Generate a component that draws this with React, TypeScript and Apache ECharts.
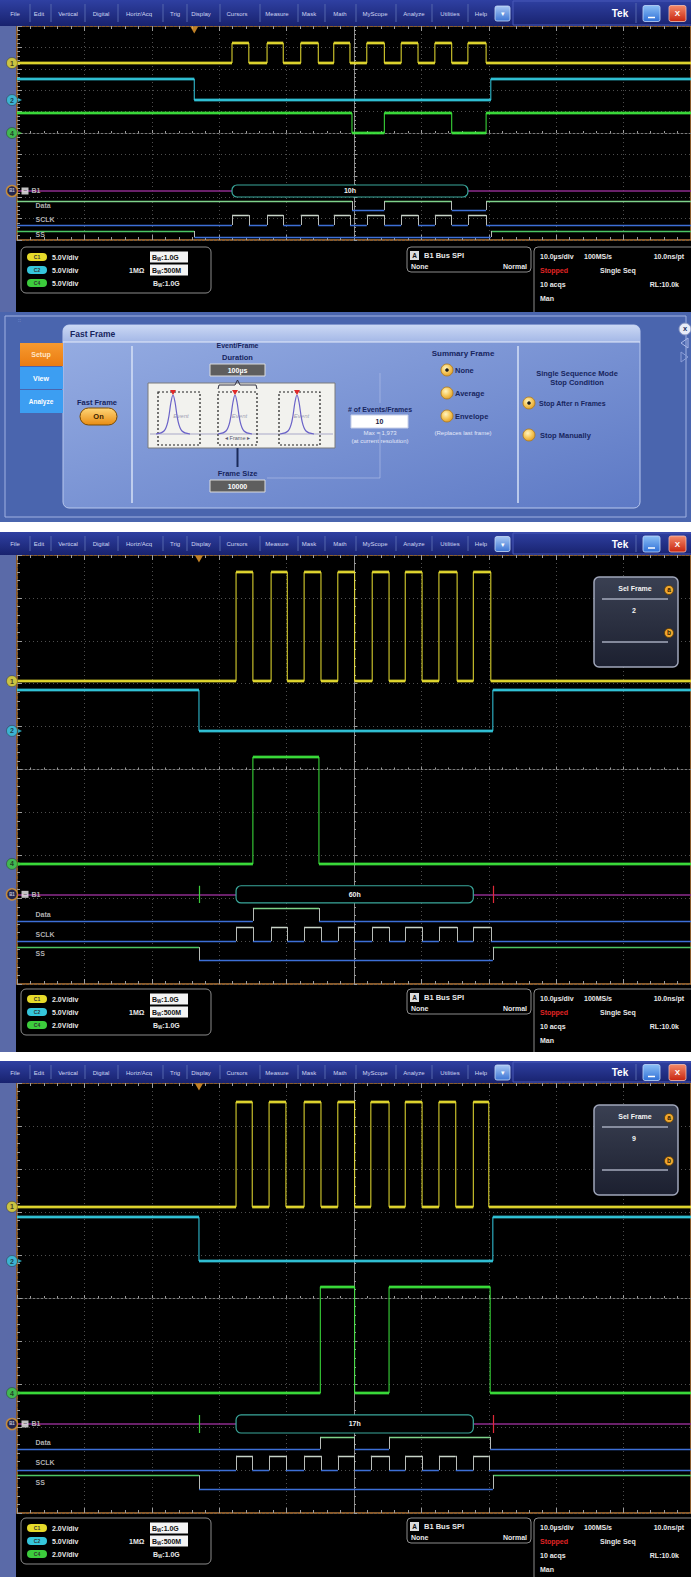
import React, { useEffect, useRef } from "react";
import * as echarts from "echarts";

const W = 691;
const H = 1577;
const FONT = '"Liberation Sans", Arial, sans-serif';

// ================= DATA =================
// Times in µs relative to the screen centre (10 µs/div).
// Levels in graticule divisions above the centre line.

// Screen 1 (acquisition shown with the Fast Frame setup panel)
const s1ClkRise = [-18.1, -12.9, -7.9, -3.0, 1.9, 7.0, 12.0, 16.9];
const s1ClkFall = [-15.6, -10.5, -5.3, -0.6, 4.5, 9.5, 14.5, 19.6];
const s1SsEdges = [-23.7, 20.3];
const s1DataEdges = [-0.3, 4.5, 14.5, 19.6];
const s1DataStartHigh = true;
const s1Ch1Level = [3.27, 4.2];
const s1Ch2Level = [1.54, 2.52];
const s1Ch4Level = [0.0, 0.93];
const s1Decode = "10h";
const s1VoltsDiv = ["5.0V/div", "5.0V/div", "5.0V/div"];

// Screen 2 (Sel Frame 2)
const s2ClkRise = [-17.5, -12.3, -7.4, -2.4, 2.7, 7.6, 12.6, 17.7];
const s2ClkFall = [-15.0, -9.9, -4.9, 0.1, 5.2, 10.1, 15.3, 20.3];
const s2SsEdges = [-23.0, 20.6];
const s2DataEdges = [-15.0, -5.2];
const s2DataStartHigh = false;
const s2Ch1Level = [2.06, 4.6];
const s2Ch2Level = [0.9, 1.85];
const s2Ch4Level = [-2.2, 0.29];
const s2Decode = "60h";
const s2Frame = "2";
const s2VoltsDiv = ["2.0V/div", "5.0V/div", "2.0V/div"];

// Screen 3 (Sel Frame 9)
const s3ClkRise = [-17.5, -12.6, -7.4, -2.4, 2.5, 7.6, 12.6, 17.7];
const s3ClkFall = [-15.1, -10.1, -4.9, 0.1, 5.2, 10.1, 15.1, 20.0];
const s3SsEdges = [-23.0, 20.6];
const s3DataEdges = [-5.0, 0.1, 5.2, 20.2];
const s3DataStartHigh = false;
const s3Ch1Level = [2.12, 4.56];
const s3Ch2Level = [0.86, 1.88];
const s3Ch4Level = [-2.21, 0.26];
const s3Decode = "17h";
const s3Frame = "9";
const s3VoltsDiv = ["2.0V/div", "5.0V/div", "2.0V/div"];

const menuItems = ["File", "Edit", "Vertical", "Digital", "Horiz/Acq", "Trig", "Display", "Cursors", "Measure", "Mask", "Math", "MyScope", "Analyze", "Utilities", "Help"];

// ================= LAYOUT =================
const menuX = [15, 39, 68, 101, 139, 175, 201, 237, 277, 309, 340, 375, 414, 450, 481];
const menuSep = [30, 51, 85, 118, 163, 187, 220, 260, 298, 325, 356, 396, 432, 468];

const SCREENS: any[] = [
  {
    top: 26, height: 214, menuTop: 0, status: 247, statusBottom: 318,
    clkRise: s1ClkRise, clkFall: s1ClkFall, ss: s1SsEdges, data: s1DataEdges, dataHigh: s1DataStartHigh,
    ch1: s1Ch1Level, ch2: s1Ch2Level, ch4: s1Ch4Level, decode: s1Decode, volts: s1VoltsDiv, frame: null,
    rows: { bus: -2.71, busHalf: 0.28, data: [-3.6, -3.18], sclk: [-4.3, -3.83], ss: [-4.86, -4.58] }, busTicks: false,
  },
  {
    top: 555, height: 429, menuTop: 532, status: 989, statusBottom: 1056, selTop: 577,
    clkRise: s2ClkRise, clkFall: s2ClkFall, ss: s2SsEdges, data: s2DataEdges, dataHigh: s2DataStartHigh,
    ch1: s2Ch1Level, ch2: s2Ch2Level, ch4: s2Ch4Level, decode: s2Decode, volts: s2VoltsDiv, frame: s2Frame,
    rows: { bus: -2.91, busHalf: 0.2, data: [-3.53, -3.23], sclk: [-4.0, -3.67], ss: [-4.44, -4.14] }, busTicks: true,
  },
  {
    top: 1083, height: 430, menuTop: 1061, status: 1518, statusBottom: 1582, selTop: 1105,
    clkRise: s3ClkRise, clkFall: s3ClkFall, ss: s3SsEdges, data: s3DataEdges, dataHigh: s3DataStartHigh,
    ch1: s3Ch1Level, ch2: s3Ch2Level, ch4: s3Ch4Level, decode: s3Decode, volts: s3VoltsDiv, frame: s3Frame,
    rows: { bus: -2.93, busHalf: 0.21, data: [-3.51, -3.23], sclk: [-4.0, -3.67], ss: [-4.44, -4.12] }, busTicks: true,
  },
];

// ================= helpers =================
const grad = (x: number, y: number, x2: number, y2: number, cols: string[]) => ({
  type: "linear", x, y, x2, y2,
  colorStops: cols.map((c, k) => ({ offset: k / (cols.length - 1), color: c })),
});
const rgrad = (cols: string[]) => ({
  type: "radial", x: 0.4, y: 0.35, r: 0.75,
  colorStops: cols.map((c, k) => ({ offset: k / (cols.length - 1), color: c })),
});

function txt(text: string, x: number, y: number, size = 7, fill = "#e8e8e8", weight = "bold", align = "left", z = 60, extra: any = {}) {
  return {
    type: "text", x, y, z, silent: true,
    style: { text, fontSize: size, fontWeight: weight, fontFamily: FONT, fill, align, verticalAlign: "middle", ...extra },
  };
}
function rect(x: number, y: number, w: number, h: number, style: any, r: any = 0, z = 50) {
  return { type: "rect", z, silent: true, shape: { x, y, width: w, height: h, r }, style };
}
function line(x1: number, y1: number, x2: number, y2: number, stroke: string, lineWidth = 1, z = 55, extra: any = {}) {
  return { type: "line", z, silent: true, shape: { x1, y1, x2, y2 }, style: { stroke, lineWidth, ...extra } };
}
function circ(cx: number, cy: number, r: number, style: any, z = 55) {
  return { type: "circle", z, silent: true, shape: { cx, cy, r }, style };
}
function poly(points: number[][], style: any, z = 55, smooth = 0, closed = false) {
  return { type: closed ? "polygon" : "polyline", z, silent: true, shape: { points, smooth }, style };
}

function stepPts(edges: number[], startHigh: boolean, lo: number, hi: number) {
  const pts: number[][] = [];
  let cur = startHigh ? hi : lo;
  pts.push([-50, cur]);
  for (const t of edges) {
    pts.push([t, cur]);
    cur = cur === hi ? lo : hi;
    pts.push([t, cur]);
  }
  pts.push([50, cur]);
  return pts;
}
function intervals(edges: number[], startHigh: boolean) {
  const b = [-50, ...edges, 50];
  const hiI: number[][] = [];
  const loI: number[][] = [];
  let st = startHigh;
  for (let k = 0; k < b.length - 1; k++) {
    (st ? hiI : loI).push([b[k], b[k + 1]]);
    st = !st;
  }
  return { hiI, loI };
}

// ================= graphic chrome =================
function menuBar(y0: number, h: number) {
  const E: any[] = [];
  const cy = y0 + h / 2 + 0.5;
  E.push(rect(0, y0, 691, h, { fill: grad(0, 0, 0, 1, ["#2f40a2", "#18226e"]) }, 0, 50));
  menuItems.forEach((m, k) => E.push(txt(m, menuX[k], cy, 6, "#cfd5f2", "normal", "center", 52)));
  menuSep.forEach((x) => E.push(line(x, y0 + 4, x, y0 + h - 4, "#5566ac", 1, 51)));
  E.push(rect(495, cy - 7.5, 15, 15, { fill: grad(0, 0, 0, 1, ["#a8c8f4", "#3c74d4"]), stroke: "#c8dcf8", lineWidth: 0.8 }, 2, 51));
  E.push(txt("▾", 502.5, cy, 7, "#ffffff", "normal", "center", 52));
  E.push(rect(513, y0 + 1, 180, h - 2, { fill: "none", stroke: "#4858b8", lineWidth: 1 }, 0, 51));
  E.push(txt("Tek", 620, cy, 10, "#ffffff", "bold", "center", 52));
  E.push(line(636, y0 + 3, 636, y0 + h - 3, "#5566ac", 1, 51));
  E.push(rect(643, cy - 8, 17, 16, { fill: grad(0, 0, 0, 1, ["#8cc0f6", "#2f6fd6"]), stroke: "#c0d8fa", lineWidth: 0.8 }, 2, 51));
  E.push(line(648, cy + 4, 655, cy + 4, "#ffffff", 1.5, 52));
  E.push(rect(669, cy - 8, 17, 16, { fill: grad(0, 0, 0, 1, ["#f48a6a", "#c8250f"]), stroke: "#f8c0b0", lineWidth: 0.8 }, 2, 51));
  E.push(txt("X", 677.5, cy, 8, "#ffffff", "bold", "center", 52));
  return E;
}

function bw(value: string, x: number, y: number, boxed: boolean) {
  const E: any[] = [];
  if (boxed) E.push(rect(150, y - 5.5, 38, 11, { fill: "#f4f4f4" }, 0, 51));
  const col = boxed ? "#111111" : "#e8e8e8";
  E.push({
    type: "text", x, y, z: 60, silent: true,
    style: {
      text: "{b|B}{s|W}{b|:" + value + "}", fontFamily: FONT, verticalAlign: "middle", align: "left",
      rich: {
        b: { fontSize: 7, fontWeight: "bold", fill: col, fontFamily: FONT },
        s: { fontSize: 4.5, fontWeight: "bold", fill: col, fontFamily: FONT, padding: [4, 0, 0, 0] },
      },
    },
  });
  return E;
}

function statusArea(y0: number, bottom: number, volts: string[]) {
  const E: any[] = [];
  const stroke = "#8c8c8c";
  E.push(rect(21, y0, 190, 46, { fill: "#000", stroke, lineWidth: 1 }, 5, 50));
  const rowsY = [y0 + 10, y0 + 23, y0 + 36];
  const badgeCols = ["#e6da2a", "#35c6dc", "#3ccc3c"];
  const badgeTxt = ["C1", "C2", "C4"];
  rowsY.forEach((ry, k) => {
    E.push(rect(27, ry - 4, 20, 8, { fill: badgeCols[k] }, 4, 51));
    E.push(txt(badgeTxt[k], 37, ry, 5, "#333333", "bold", "center"));
    E.push(txt(volts[k], 52, ry, 7));
  });
  E.push(...bw("1.0G", 152, rowsY[0], true));
  E.push(txt("1MΩ", 129, rowsY[1], 7));
  E.push(...bw("500M", 152, rowsY[1], true));
  E.push(...bw("1.0G", 153, rowsY[2], false));

  E.push(rect(407, y0, 124, 25, { fill: "#000", stroke, lineWidth: 1 }, 4, 50));
  E.push(rect(410, y0 + 4, 9, 9, { fill: "#dcdcdc" }, 0, 51));
  E.push(txt("A", 414.5, y0 + 8.5, 6.5, "#111", "bold", "center"));
  E.push(txt("B1 Bus SPI", 424, y0 + 8.5, 7.5));
  E.push(txt("None", 411, y0 + 19.5, 7));
  E.push(txt("Normal", 527, y0 + 19.5, 7, "#e8e8e8", "bold", "right"));

  E.push(rect(534, y0, 166, bottom - y0, { fill: "#000", stroke, lineWidth: 1 }, 4, 50));
  E.push(txt("10.0µs/div", 540, y0 + 9, 7));
  E.push(txt("100MS/s", 584, y0 + 9, 7));
  E.push(txt("10.0ns/pt", 684, y0 + 9, 7, "#e8e8e8", "bold", "right"));
  E.push(txt("Stopped", 540, y0 + 23, 7, "#e02424"));
  E.push(txt("Single Seq", 600, y0 + 23, 7));
  E.push(txt("10 acqs", 540, y0 + 37, 7));
  E.push(txt("RL:10.0k", 679, y0 + 37, 7, "#e8e8e8", "bold", "right"));
  E.push(txt("Man", 540, y0 + 51, 7));
  return E;
}

function selFrame(y0: number, value: string) {
  const E: any[] = [];
  E.push(rect(594, y0, 84, 90, { fill: grad(0, 0, 0, 1, ["#3a4052", "#1c2030"]), stroke: "#a0a6ba", lineWidth: 1.5 }, 5, 50));
  E.push(txt("Sel Frame", 635, y0 + 11, 7, "#f4f4f4", "bold", "center"));
  E.push(circ(669, y0 + 13, 4.5, { fill: "#f0a830", stroke: "#5a3a00", lineWidth: 0.8 }, 55));
  E.push(txt("a", 669, y0 + 12.5, 6.5, "#302000", "bold", "center"));
  E.push(line(602, y0 + 22, 668, y0 + 22, "#a4aabc", 1.5));
  E.push(txt(value, 634, y0 + 33, 7, "#f4f4f4", "bold", "center"));
  E.push(circ(669, y0 + 56, 4.5, { fill: "#f0a830", stroke: "#5a3a00", lineWidth: 0.8 }, 55));
  E.push(txt("b", 669, y0 + 55.5, 6.5, "#302000", "bold", "center"));
  E.push(line(602, y0 + 65, 668, y0 + 65, "#a4aabc", 1.5));
  return E;
}

function radio(cx: number, cy: number, selected: boolean) {
  const E: any[] = [];
  E.push(circ(cx, cy, 6, { fill: rgrad(["#fff4c0", "#f6c85a", "#d99420"]), stroke: "#b07818", lineWidth: 0.8 }, 56));
  if (selected) E.push(circ(cx, cy, 1.8, { fill: "#1a1a1a" }, 57));
  return E;
}

function fastFramePanel() {
  const E: any[] = [];
  const navy = "#17255e";
  const pale = "#e2e8f8";
  E.push(rect(0, 312, 691, 210, { fill: "#4a65ae" }, 0, 52));
  E.push(rect(5, 316, 681, 201, { fill: "none", stroke: "#a0b2e2", lineWidth: 1 }, 0, 53));
  E.push(txt("::", 18, 320, 5, "#a8b8e8", "normal"));
  // inner panel
  E.push(rect(63, 325, 577, 183, { fill: grad(0, 0, 1, 1, ["#97aee3", "#5d79c5"]), stroke: "#b8c8ee", lineWidth: 1 }, 6, 53));
  E.push(rect(63, 325, 577, 17, { fill: grad(0, 0, 0, 1, ["#cbd8f4", "#a3b7e6"]) }, [6, 6, 0, 0], 54));
  E.push(line(63, 342, 640, 342, "#e6ecfa", 1, 54));
  E.push(txt("Fast Frame", 70, 333.5, 8.5, navy));
  // tabs
  E.push(rect(20, 343, 43, 23, { fill: grad(0, 0, 0, 1, ["#f79a30", "#ea7c10"]) }, 0, 54));
  E.push(txt("Setup", 41, 354.5, 7, "#ffe6c8", "bold", "center"));
  E.push(rect(20, 367, 43, 22, { fill: "#3c9ef2" }, 0, 54));
  E.push(txt("View", 41, 378, 7, "#ffffff", "bold", "center"));
  E.push(rect(20, 390, 43, 23, { fill: "#3c9ef2" }, 0, 54));
  E.push(txt("Analyze", 41, 401.5, 6.5, "#ffffff", "bold", "center"));
  // separators
  E.push(line(132, 346, 132, 503, "#d6e0f6", 1.5));
  E.push(line(518, 346, 518, 503, "#d6e0f6", 1.5));
  // Fast Frame On
  E.push(txt("Fast Frame", 97, 402, 7.5, navy, "bold", "center"));
  E.push(rect(80, 408, 37, 17, { fill: grad(0, 0, 0, 1, ["#ffd678", "#e88c12"]), stroke: "#7a4a00", lineWidth: 1 }, 8.5, 55));
  E.push(txt("On", 98.5, 416.5, 7.5, "#3a2000", "bold", "center"));
  // Duration
  E.push(txt("Event/Frame", 237.5, 345, 7, navy, "bold", "center"));
  E.push(txt("Duration", 237.5, 357, 7.5, navy, "bold", "center"));
  E.push(rect(210, 364, 55, 12, { fill: "#5e5e5e", stroke: "#dcdcdc", lineWidth: 1 }, 0, 55));
  E.push(txt("100µs", 237.5, 370, 7, "#ffffff", "bold", "center"));
  // diagram
  E.push(rect(148, 383, 187, 65, { fill: "#f2f2ee", stroke: "#7a7a7a", lineWidth: 1 }, 0, 55));
  E.push(line(150, 434, 333, 434, "#a8a8c8", 1, 56));
  const frames = [[158, 200], [218, 257], [279, 320]];
  const peaks = [173, 235, 297];
  frames.forEach(([a, b]) => {
    E.push(rect(a, 392, b - a, 53, { fill: "none", stroke: "#1e1e1e", lineWidth: 1.2, lineDash: [2, 2] }, 0, 57));
    E.push(txt("Event", (a + b) / 2 + 2, 416, 6, "#a0a0b4", "normal", "center", 57, { fontStyle: "italic" }));
  });
  peaks.forEach((p) => {
    E.push(poly([[p - 17, 434], [p - 9, 431], [p - 5, 421], [p - 2, 402], [p, 395], [p + 2, 402], [p + 5, 421], [p + 9, 431], [p + 17, 434]], { stroke: "#6a62c8", lineWidth: 1.2, fill: "none" }, 58, 0.35));
    E.push(poly([[p - 3, 390], [p + 3, 390], [p, 395]], { fill: "#e02828" }, 59, 0, true));
  });
  E.push(txt("◂ Frame ▸", 237.5, 438, 5.5, "#5a5a70", "normal", "center", 58));
  E.push(poly([[218, 389], [219, 385], [235, 385], [237.5, 380], [240, 385], [256, 385], [257, 389]], { stroke: "#303040", lineWidth: 1, fill: "none" }, 56));
  E.push(line(237.5, 448, 237.5, 467, "#1a2a5a", 2));
  E.push(txt("Frame Size", 237.5, 473, 7.5, navy, "bold", "center"));
  E.push(rect(210, 480, 55, 12, { fill: "#5e5e5e", stroke: "#dcdcdc", lineWidth: 1 }, 0, 55));
  E.push(txt("10000", 237.5, 486, 7, "#ffffff", "bold", "center"));
  E.push(poly([[267, 478], [380, 478], [380, 432]], { stroke: "#b4c2ea", lineWidth: 1, fill: "none", opacity: 0.6 }, 54));
  E.push(line(380, 373, 380, 403, "#b4c2ea", 1, 54, { opacity: 0.6 }));
  // events/frames
  E.push(txt("# of Events/Frames", 380, 409, 7, navy, "bold", "center"));
  E.push(rect(351, 415, 57, 13, { fill: "#ffffff", stroke: "#c8d0e8", lineWidth: 1 }, 0, 55));
  E.push(txt("10", 379.5, 421.5, 7, "#1a2040", "bold", "center"));
  E.push(txt("Max = 1,973", 380, 433, 6, pale, "normal", "center"));
  E.push(txt("(at current resolution)", 380, 441, 6, pale, "normal", "center"));
  // summary frame
  E.push(txt("Summary Frame", 463, 353, 8, navy, "bold", "center"));
  E.push(...radio(447, 370, true));
  E.push(txt("None", 455, 370, 7.5, navy));
  E.push(...radio(447, 393, false));
  E.push(txt("Average", 455, 393, 7.5, navy));
  E.push(...radio(447, 416, false));
  E.push(txt("Envelope", 455, 416, 7.5, navy));
  E.push(txt("(Replaces last frame)", 463, 433, 6, pale, "normal", "center"));
  // single sequence
  E.push(txt("Single Sequence Mode", 577, 373, 7.5, navy, "bold", "center"));
  E.push(txt("Stop Condition", 577, 382, 7.5, navy, "bold", "center"));
  E.push(...radio(529, 403, true));
  E.push(txt("Stop After n Frames", 539, 403, 7, navy));
  E.push(...radio(529, 435, false));
  E.push(txt("Stop Manually", 540, 435, 7.5, navy));
  // close & arrows
  E.push(circ(685, 329, 6, { fill: "#e8ecf8", stroke: "#8090c0", lineWidth: 1 }, 56));
  E.push(txt("x", 685, 328.5, 7.5, "#203060", "bold", "center"));
  E.push(poly([[688, 338], [688, 348], [681, 343]], { stroke: "#aab8e8", fill: "none", lineWidth: 1 }, 56, 0, true));
  E.push(poly([[681, 352], [681, 362], [688, 357]], { stroke: "#8c9ed8", fill: "none", lineWidth: 1 }, 56, 0, true));
  return E;
}

// ================= option =================
function buildOption() {
  const grid: any[] = [];
  const xAxis: any[] = [];
  const yAxis: any[] = [];
  const series: any[] = [];
  const graphic: any[] = [];

  // backgrounds
  graphic.push(rect(0, 0, 691, 312, { fill: "#000" }, 0, -10));
  graphic.push(rect(0, 532, 691, 520, { fill: "#000" }, 0, -10));
  graphic.push(rect(0, 1061, 691, 516, { fill: "#000" }, 0, -10));
  graphic.push(rect(0, 26, 16, 286, { fill: "#5a6aa8" }, 0, -9));
  graphic.push(rect(0, 555, 16, 497, { fill: "#5a6aa8" }, 0, -9));
  graphic.push(rect(0, 1083, 16, 494, { fill: "#5a6aa8" }, 0, -9));

  const tickCol = "#9c9c9c";
  const gridDots = { color: "#4e4e4e", width: 1, type: [1, 3] };

  SCREENS.forEach((s, i) => {
    grid.push({ left: 17, top: s.top, width: 674, height: s.height, show: true, borderColor: "#b5783a", borderWidth: 1.5, backgroundColor: "rgba(0,0,0,0)" });
    const common = { gridIndex: i, type: "value", min: -50, max: 50, interval: 10, axisLabel: { show: false } };
    xAxis.push({
      ...common, position: "bottom",
      axisLine: { show: true, onZero: true, lineStyle: { color: "#7a7a7a", width: 1, type: [2, 2] } },
      axisTick: { show: true, inside: true, length: 3, lineStyle: { color: tickCol } },
      minorTick: { show: true, splitNumber: 5, length: 2, lineStyle: { color: tickCol } },
      splitLine: { show: true, lineStyle: gridDots },
    });
    xAxis.push({
      ...common, position: "top",
      axisLine: { show: false, onZero: false },
      axisTick: { show: true, inside: true, length: 5, lineStyle: { color: tickCol } },
      minorTick: { show: true, splitNumber: 5, length: 3, lineStyle: { color: tickCol } },
      splitLine: { show: false },
    });
    xAxis.push({
      ...common, position: "bottom",
      axisLine: { show: false, onZero: false },
      axisTick: { show: true, inside: true, length: 5, lineStyle: { color: tickCol } },
      minorTick: { show: true, splitNumber: 5, length: 3, lineStyle: { color: tickCol } },
      splitLine: { show: false },
    });
    const ycommon = { gridIndex: i, type: "value", min: -5, max: 5, interval: 1, axisLabel: { show: false } };
    yAxis.push({
      ...ycommon, position: "left",
      axisLine: { show: true, onZero: true, lineStyle: { color: "#8a8a8a", width: 1 } },
      axisTick: { show: true, inside: true, length: 3, lineStyle: { color: tickCol } },
      minorTick: { show: true, splitNumber: 5, length: 2, lineStyle: { color: tickCol } },
      splitLine: { show: true, lineStyle: gridDots },
    });
    yAxis.push({
      ...ycommon, position: "left",
      axisLine: { show: false, onZero: false },
      axisTick: { show: true, inside: true, length: 5, lineStyle: { color: tickCol } },
      minorTick: { show: true, splitNumber: 5, length: 3, lineStyle: { color: tickCol } },
      splitLine: { show: false },
    });

    const base = { xAxisIndex: 3 * i, yAxisIndex: 2 * i, silent: true };
    const clkEdges = [...s.clkRise, ...s.clkFall].sort((a: number, b: number) => a - b);

    const seg = (a: number, b: number, y: number) => ({ coords: [[a, y], [b, y]] });
    const analog = (edges: number[], startHigh: boolean, lv: number[], color: string) => {
      const [lo, hi] = lv;
      const iv = intervals(edges, startHigh);
      const flat = [...iv.hiI.map(([a, b]) => seg(a, b, hi)), ...iv.loI.map(([a, b]) => seg(a, b, lo))];
      series.push({ type: "line", ...base, data: stepPts(edges, startHigh, lo, hi), showSymbol: false, symbol: "none", lineStyle: { color, width: 1 }, z: 3 });
      series.push({ type: "lines", coordinateSystem: "cartesian2d", ...base, data: flat, lineStyle: { color, width: 3.6, opacity: 0.45, curveness: 0 }, z: 3 });
      series.push({ type: "lines", coordinateSystem: "cartesian2d", ...base, data: flat, lineStyle: { color, width: 1.6, opacity: 1, curveness: 0 }, z: 4 });
    };
    analog(clkEdges, false, s.ch1, "#ece232");
    analog(s.ss, true, s.ch2, "#34cce2");
    analog(s.data, s.dataHigh, s.ch4, "#3ee83e");

    const digital = (edges: number[], startHigh: boolean, lv: number[], hiColor: string) => {
      const [lo, hi] = lv;
      const iv = intervals(edges, startHigh);
      series.push({ type: "lines", coordinateSystem: "cartesian2d", ...base, data: iv.loI.map(([a, b]) => seg(a, b, lo)), lineStyle: { color: "#3d6fd6", width: 1.3, opacity: 1, curveness: 0 }, z: 5 });
      series.push({ type: "lines", coordinateSystem: "cartesian2d", ...base, data: iv.hiI.map(([a, b]) => seg(a, b, hi)), lineStyle: { color: hiColor, width: 1.3, opacity: 1, curveness: 0 }, z: 5 });
      series.push({ type: "lines", coordinateSystem: "cartesian2d", ...base, data: edges.map((t) => ({ coords: [[t, lo], [t, hi]] })), lineStyle: { color: "#b8bcb8", width: 1, opacity: 1, curveness: 0 }, z: 5 });
    };
    const r = s.rows;
    digital(s.data, s.dataHigh, r.data, "#7ed28a");
    digital(clkEdges, false, r.sclk, "#c8d4c8");
    digital(s.ss, true, r.ss, "#4cc564");

    // bus
    const b0 = s.clkRise[0];
    const b1 = s.clkRise[s.clkRise.length - 1];
    series.push({ type: "lines", coordinateSystem: "cartesian2d", ...base, data: [seg(-50, b0, r.bus), seg(b1, 50, r.bus)], lineStyle: { color: "#8e2c8e", width: 1.6, opacity: 1, curveness: 0 }, z: 5 });
    if (s.busTicks) {
      series.push({ type: "lines", coordinateSystem: "cartesian2d", ...base, data: [{ coords: [[s.ss[0], r.bus - r.busHalf], [s.ss[0], r.bus + r.busHalf]] }], lineStyle: { color: "#3ccc3c", width: 1.2, opacity: 1 }, z: 6 });
      series.push({ type: "lines", coordinateSystem: "cartesian2d", ...base, data: [{ coords: [[s.ss[1], r.bus - r.busHalf], [s.ss[1], r.bus + r.busHalf]] }], lineStyle: { color: "#e02a3a", width: 1.2, opacity: 1 }, z: 6 });
    }
    const decode = s.decode;
    series.push({
      type: "custom", ...base, coordinateSystem: "cartesian2d", z: 6,
      data: [[b0, b1, r.bus + r.busHalf, r.bus - r.busHalf]],
      renderItem: (_p: any, api: any) => {
        const a = api.coord([api.value(0), api.value(2)]);
        const b = api.coord([api.value(1), api.value(3)]);
        return {
          type: "group",
          children: [
            { type: "rect", shape: { x: a[0], y: a[1], width: b[0] - a[0], height: b[1] - a[1], r: 5 }, style: { fill: "#000", stroke: "#3aa89c", lineWidth: 1.2 } },
            { type: "text", x: (a[0] + b[0]) / 2, y: (a[1] + b[1]) / 2, style: { text: decode, fill: "#f0f0f0", fontSize: 7, fontWeight: "bold", fontFamily: FONT, align: "center", verticalAlign: "middle" } },
          ],
        };
      },
    });

    // channel markers
    const mk = (y: number, color: string, label: string, o: any = {}) => ({
      value: [-50, y],
      itemStyle: { color, borderColor: o.border || "#202020", borderWidth: o.bw ?? 0.5 },
      label: { show: true, position: "inside", formatter: label, color: o.tc || "#1a1a1a", fontSize: o.fs || 7, fontWeight: "bold", fontFamily: FONT },
    });
    series.push({
      type: "scatter", ...base, clip: false, symbol: "circle", symbolSize: 11, symbolOffset: [-5, 0], z: 12,
      data: [mk(s.ch1[0], "#e6da2a", "1"), mk(s.ch2[0], "#35c6dc", "2"), mk(s.ch4[0], "#3ccc3c", "4"), mk(r.bus, "#15153a", "B1", { border: "#e29a2c", bw: 1.5, tc: "#e8e8f8", fs: 4.5 })],
    });
    series.push({
      type: "scatter", ...base, clip: false, symbol: "triangle", symbolRotate: -90, symbolSize: 4, symbolOffset: [3, 0], z: 12,
      data: [{ value: [-50, s.ch2[0]], itemStyle: { color: "#35c6dc" } }, { value: [-50, s.ch4[0]], itemStyle: { color: "#3ccc3c" } }],
    });
    series.push({
      type: "scatter", ...base, clip: false, symbol: "rect", symbolSize: 7, symbolOffset: [8, 0], z: 12,
      itemStyle: { color: "#f2f2f2" },
      label: { show: true, position: "inside", formatter: "−", color: "#222", fontSize: 7, fontFamily: FONT },
      data: [[-50, r.bus]],
    });
    const lab = (y: number, text: string, dist: number) => ({
      value: [-50, y],
      label: { show: true, position: "right", distance: dist, formatter: text, color: "#dedede", fontSize: 7, fontWeight: "bold", fontFamily: FONT },
    });
    series.push({
      type: "scatter", ...base, clip: false, symbolSize: 1, itemStyle: { color: "rgba(0,0,0,0)" }, z: 12,
      data: [lab(r.bus, "B1", 14), lab((r.data[0] + r.data[1]) / 2, "Data", 18), lab((r.sclk[0] + r.sclk[1]) / 2, "SCLK", 18), lab((r.ss[0] + r.ss[1]) / 2, "SS", 18)],
    });
    // trigger position marker
    series.push({
      type: "scatter", ...base, clip: false, symbol: "triangle", symbolRotate: 180, symbolSize: [8, 7], symbolOffset: [0, 4], z: 12,
      itemStyle: { color: "#f0a030" }, data: [[s.ss[0], 5]],
    });

    // chrome
    graphic.push(...menuBar(s.menuTop, s.top - s.menuTop));
    graphic.push(...statusArea(s.status, s.statusBottom, s.volts));
    if (s.frame) graphic.push(...selFrame(s.selTop, s.frame));
  });

  graphic.push(...fastFramePanel());
  graphic.push(rect(0, 522, 691, 10, { fill: "#ffffff" }, 0, 60));
  graphic.push(rect(0, 1052, 691, 9, { fill: "#ffffff" }, 0, 60));

  return {
    animation: false,
    backgroundColor: "#ffffff",
    grid, xAxis, yAxis, series,
    graphic: { elements: graphic },
  };
}

export default function App() {
  const ref = useRef<HTMLDivElement>(null);
  useEffect(() => {
    document.body.style.margin = "0";
    const chart = echarts.init(ref.current as HTMLDivElement, null, { renderer: "svg", width: W, height: H });
    chart.setOption(buildOption() as any);
    return () => chart.dispose();
  }, []);
  return <div ref={ref} style={{ width: W, height: H, position: "absolute", left: 0, top: 0 }} />;
}
